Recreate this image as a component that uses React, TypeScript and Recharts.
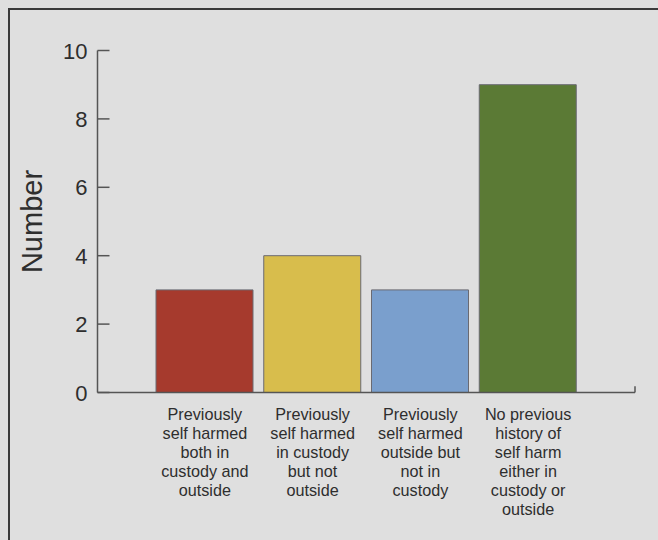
import { Bar, BarChart, Cell, ReferenceLine, XAxis, YAxis } from "recharts";

const categories = [
  "Previously\nself harmed\nboth in\ncustody and\noutside",
  "Previously\nself harmed\nin custody\nbut not\noutside",
  "Previously\nself harmed\noutside but\nnot in\ncustody",
  "No previous\nhistory of\nself harm\neither in\ncustody or\noutside",
];
const counts = [3, 4, 3, 9];
const barColors = ["#a63a2d", "#d8bd4c", "#7a9fcd", "#5b7a35"];
const yTicks = [0, 2, 4, 6, 8, 10];

const data = categories.map((label, i) => ({ label, count: counts[i] }));
const lastIndex = categories.length - 1;

const FONT = '"Liberation Sans", Arial, Helvetica, sans-serif';
const INK = "#2e2e2e";
const AXIS = "#555";

function YTick(props: any) {
  const { x, y, payload } = props;
  return (
    <g>
      <line x1={x + 10} x2={x + 22} y1={y} y2={y} stroke={AXIS} strokeWidth={1.5} />
      <text x={x} y={y} dy={8} textAnchor="end" fontSize={22} fill={INK} fontFamily={FONT}>
        {payload.value}
      </text>
    </g>
  );
}

function XTick(props: any) {
  const { x, y, payload } = props;
  const lines = String(payload.value).split("\n");
  return (
    <text textAnchor="middle" fontSize={16.2} fill={INK} fontFamily={FONT}>
      {lines.map((line, i) => (
        <tspan key={i} x={x} y={y + 27.5 + i * 19}>
          {line}
        </tspan>
      ))}
    </text>
  );
}

export default function App() {
  return (
    <div style={{ position: "absolute", left: 0, top: 0, width: 658, height: 540, background: "#dfdfdf", overflow: "hidden" }}>
      <div
        style={{
          position: "absolute",
          left: 8,
          top: 8,
          right: -10,
          bottom: -10,
          borderTop: "2px solid #3a3a3a",
          borderLeft: "2px solid #3a3a3a",
        }}
      />
      <div style={{ position: "absolute", left: 0, top: 0 }}>
        <BarChart width={658} height={540} data={data} margin={{ top: 50.5, right: 23, bottom: 0, left: 0 }}>
          <XAxis
            dataKey="label"
            height={147.5}
            padding={{ left: 53.5, right: 53 }}
            tickLine={false}
            tickSize={0}
            tickMargin={0}
            interval={0}
            tick={<XTick />}
            axisLine={{ stroke: AXIS, strokeWidth: 1.5 }}
          />
          <XAxis xAxisId="num" type="number" domain={[0, lastIndex]} hide />
          <YAxis
            yAxisId="left"
            width={97.5}
            domain={[0, 10]}
            ticks={yTicks}
            tickLine={false}
            tickSize={0}
            tickMargin={10}
            tick={<YTick />}
            axisLine={{ stroke: AXIS, strokeWidth: 1.5 }}
            label={{
              value: "Number",
              angle: -90,
              position: "insideLeft",
              offset: 32,
              style: { fontSize: 29, fill: INK, fontFamily: FONT, textAnchor: "middle" },
            }}
          />
          <Bar yAxisId="left" dataKey="count" barSize={97} stroke="#6a6a72" strokeWidth={1} isAnimationActive={false}>
            {data.map((_, i) => (
              <Cell key={i} fill={barColors[i]} />
            ))}
          </Bar>
          {/* small upturn at the right end of the x axis */}
          <ReferenceLine
            xAxisId="num"
            yAxisId="left"
            segment={[
              { x: lastIndex, y: 0 },
              { x: lastIndex, y: 0.18 },
            ]}
            stroke={AXIS}
            strokeWidth={1.5}
            ifOverflow="visible"
          />
        </BarChart>
      </div>
    </div>
  );
}
